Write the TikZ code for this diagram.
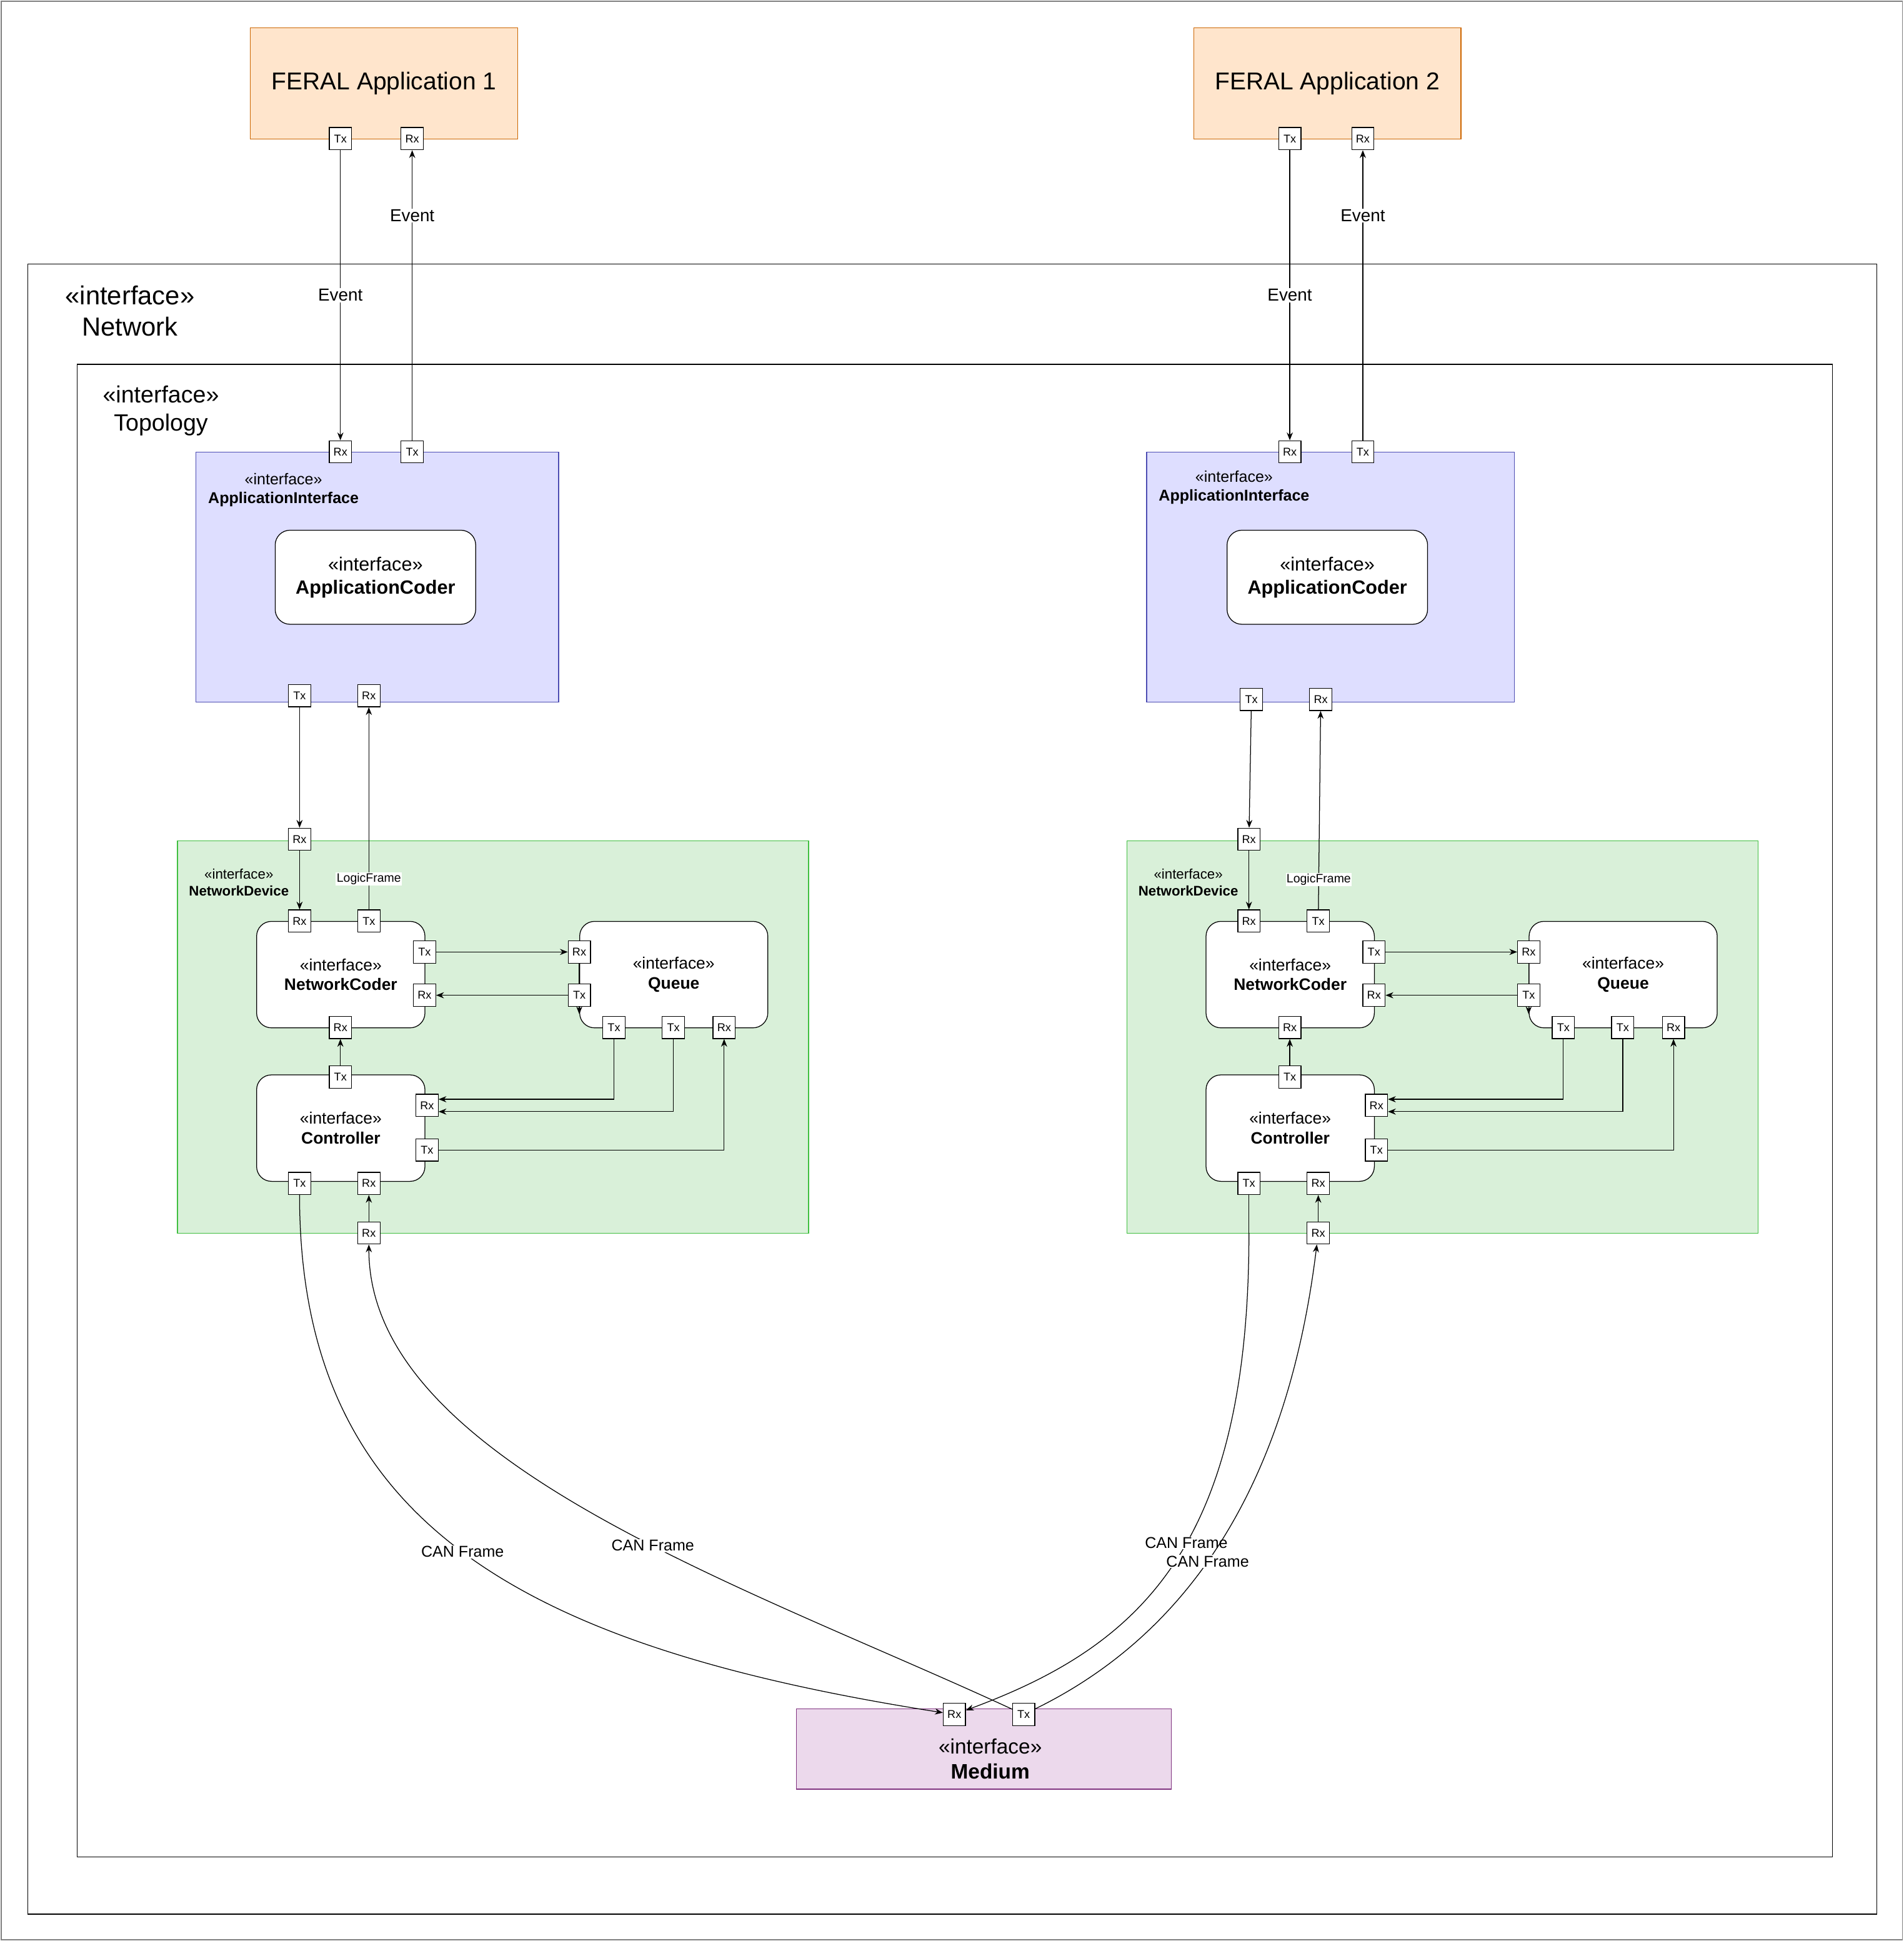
\documentclass[tikz,border=0pt]{standalone}
\usepackage{fontspec}
\setmainfont{Liberation Sans}
\usetikzlibrary{arrows.meta,calc}
\begin{document}
\begin{tikzpicture}[x=0.05cm,y=-0.05cm,line width=0.9pt,>={Stealth[length=9pt,width=7pt]},
 fs/.style={font=\fontsize{#1pt}{\the\dimexpr #1pt*6/5\relax}\selectfont},
 port/.style={draw,fill=white,minimum size=0.9cm,inner sep=0pt,fs=13},
 lbl/.style={fill=white,inner sep=1pt},
 feral/.style={draw=orange!80!black,fill=orange!20},
 appi/.style={draw=blue!40!gray,fill=blue!13},
 dev/.style={draw=green!50!gray,fill=green!60!black!15},
 comp/.style={draw,fill=white,rounded corners=0.6cm}]
\useasboundingbox (0,0) rectangle (1538,1568);
\draw[gray] (1,1) rectangle (1537,1567);
\node[draw,minimum width=74.7cm,minimum height=66.65cm,anchor=north west] (net) at (22,213) {};
\node[align=center,fs=30] (netl) at (105,251) {<<interface>>\\Network};
\node[draw,minimum width=70.9cm,minimum height=60.3cm,anchor=north west] (top) at (62,294) {};
\node[align=center,fs=27] (topl) at (130,332) {<<interface>>\\Topology};
% FERAL apps
\foreach \n/\x/\tx/\rx in {1/202/275/333,2/964/1042/1101}{
 \node[feral,minimum width=10.8cm,minimum height=4.5cm,anchor=north west,fs=28] (fa\n) at (\x,22) {FERAL Application \n};
 \node[port] (fatx\n) at (\tx,112) {Tx};
 \node[port] (farx\n) at (\rx,112) {Rx};
}
% application interfaces
\foreach \n/\x/\w/\ax/\tx/\rx/\by/\ly in {1/158/14.65/222/275/333/562/396,2/926/14.85/991/1042/1101/565/394}{
 \node[appi,minimum width=\w cm,minimum height=10.1cm,anchor=north west] (ai\n) at (\x,365) {};
 \node[align=center,fs=18] (ail\n) at ({\x+71},\ly) {<<interface>>\\\textbf{ApplicationInterface}};
 \node[comp,minimum width=8.1cm,minimum height=3.8cm,anchor=north west,align=center,fs=22] (ac\n) at (\ax,428) {<<interface>>\\\textbf{ApplicationCoder}};
 \node[port] (airx\n) at (\tx,365) {Rx};
 \node[port] (aitx\n) at (\rx,365) {Tx};
 \node[port] (aibtx\n) at ({\ax+20},\by) {Tx};
 \node[port] (aibrx\n) at ({\ax+76},\by) {Rx};
 \draw[->] (fatx\n) -- node[lbl,fs=20]{Event} (airx\n);
 \draw[->] (aitx\n) -- node[lbl,fs=20,pos=0.774]{Event} (farx\n);
}
% network devices
\foreach \n/\d in {1/0,2/767}{
 \node[dev,minimum width=25.5cm,minimum height=15.85cm,anchor=north west] (nd\n) at ({143+\d},679) {};
 \node[align=center,fs=16] (ndl\n) at ({193+\d},713) {<<interface>>\\\textbf{NetworkDevice}};
 \node[port] (ndrx\n) at ({242+\d},678) {Rx};
 \node[comp,minimum width=6.8cm,minimum height=4.3cm,anchor=north west,align=center,fs=19] (nc\n) at ({207+\d},744) {<<interface>>\\\textbf{NetworkCoder}};
 \node[comp,minimum width=7.6cm,minimum height=4.3cm,anchor=north west,align=center,fs=19] (q\n) at ({468+\d},744) {<<interface>>\\\textbf{Queue}};
 \node[comp,minimum width=6.8cm,minimum height=4.3cm,anchor=north west,align=center,fs=19] (ct\n) at ({207+\d},868) {<<interface>>\\\textbf{Controller}};
 \node[port] (ncrx\n) at ({242+\d},744) {Rx};
 \node[port] (nctx\n) at ({298+\d},744) {Tx};
 \node[port] (ncrtx\n) at ({343+\d},769) {Tx};
 \node[port] (ncrrx\n) at ({343+\d},804) {Rx};
 \node[port] (ncbrx\n) at ({275+\d},830) {Rx};
 \node[port] (qrx\n) at ({468+\d},769) {Rx};
 \node[port] (qtx\n) at ({468+\d},804) {Tx};
 \node[port] (qbtxa\n) at ({496+\d},830) {Tx};
 \node[port] (qbtxb\n) at ({544+\d},830) {Tx};
 \node[port] (qbrx\n) at ({585+\d},830) {Rx};
 \node[port] (cttx\n) at ({275+\d},870) {Tx};
 \node[port] (ctrx\n) at ({345+\d},893) {Rx};
 \node[port] (ctrtx\n) at ({345+\d},929) {Tx};
 \node[port] (ctbtx\n) at ({242+\d},956) {Tx};
 \node[port] (ctbrx\n) at ({298+\d},956) {Rx};
 \node[port] (ndbrx\n) at ({298+\d},996) {Rx};
 \draw[->] (aibtx\n) -- (ndrx\n);
 \draw[->] (ndrx\n) -- (ncrx\n);
 \draw[->] (nctx\n) -- node[lbl,fs=14,pos=0.15]{LogicFrame} (aibrx\n);
 \draw[->] (ncrtx\n) -- (qrx\n);
 \draw[->] (qtx\n) -- (ncrrx\n);
 \draw (qrx\n) -- (qtx\n);
 \draw[->] (qtx\n.south) -- ++(0,6);
 \draw[->] (cttx\n) -- (ncbrx\n);
 \draw[->] (qbtxa\n) |- ($(ctrx\n.east)+(0,-5)$);
 \draw[->] (qbtxb\n) |- ($(ctrx\n.east)+(0,5)$);
 \draw[->] (ctrtx\n) -| (qbrx\n);
 \draw[->] (ndbrx\n) -- (ctbrx\n);
}
% medium
\node[draw=violet!60!gray,fill=violet!15,minimum width=15.15cm,minimum height=3.25cm,anchor=north west] (med) at (643,1380) {};
\node[align=center,fs=24] (medl) at (800,1421) {<<interface>>\\\textbf{Medium}};
\node[port] (mrx) at (771,1385) {Rx};
\node[port] (mtx) at (827,1385) {Tx};
\draw[->] (ctbtx1) .. controls (242,1230) and (420,1330) .. node[lbl,fs=18,pos=0.5]{CAN Frame} (mrx);
\draw[->] (mtx) .. controls (600,1280) and (298,1180) .. node[lbl,fs=18,pos=0.42]{CAN Frame} (ndbrx1);
\coordinate (c2) at (1009,996);
\draw (ctbtx2) -- (c2);
\draw[->] (c2) .. controls (1009,1250) and (920,1330) .. node[lbl,fs=18,pos=0.45]{CAN Frame} (mrx);
\draw[->] (mtx) .. controls (960,1320) and (1040,1200) .. node[lbl,fs=18,pos=0.45]{CAN Frame} (ndbrx2);
\end{tikzpicture}
\end{document}
